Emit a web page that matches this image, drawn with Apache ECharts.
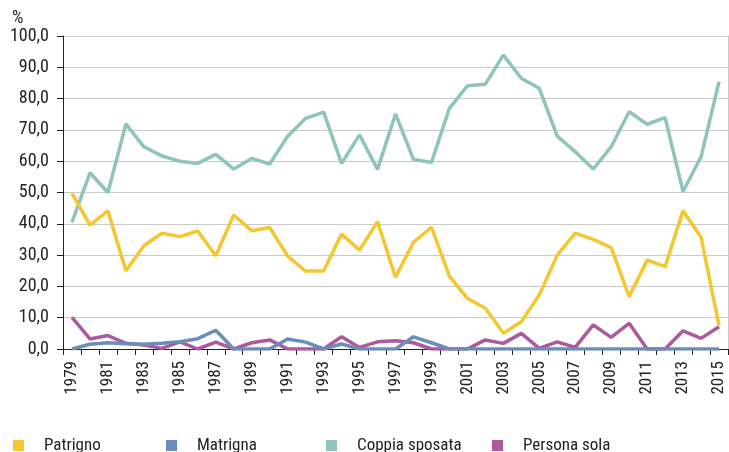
<!DOCTYPE html>
<html>
<head>
<meta charset="utf-8">
<script src="https://cdn.jsdelivr.net/npm/echarts@6/dist/echarts.min.js"></script>
<style>html,body{margin:0;padding:0;background:#fff}#c{width:729px;height:452px}</style>
</head>
<body>
<div id="c"></div>
<script>
const years = ['1979','1980','1981','1982','1983','1984','1985','1986','1987','1988','1989','1990','1991','1992','1993','1994','1995','1996','1997','1998','1999','2000','2001','2002','2003','2004','2005','2006','2007','2008','2009','2010','2011','2012','2013','2014','2015'];
const patrigno = [49.7,39.6,44.1,25.0,33.0,37.0,35.9,37.7,29.8,42.8,37.8,38.8,29.7,24.9,24.9,36.7,31.6,40.7,22.9,34.1,38.9,23.3,16.2,13.0,5.0,8.7,17.3,30.0,37.0,35.0,32.4,16.7,28.4,26.3,44.2,35.7,7.5];
const matrigna = [0.0,1.5,2.0,1.7,1.5,1.8,2.3,3.3,6.0,0.0,0.0,0.0,3.2,2.2,0.0,1.6,0.0,0.0,0.0,3.9,2.0,0.0,0.0,0.0,0.0,0.0,0.0,0.0,0.0,0.0,0.0,0.0,0.0,0.0,0.0,0.0,0.0];
const coppiaSposata = [40.5,56.3,50.0,71.9,64.6,61.7,60.0,59.3,62.2,57.5,60.9,59.1,68.0,73.7,75.7,59.3,68.4,57.4,75.1,60.6,59.6,76.9,84.1,84.6,93.9,86.5,83.3,68.0,63.0,57.5,64.6,75.8,71.8,73.9,50.3,61.4,85.4];
const personaSola = [10.1,3.2,4.3,1.8,1.3,0.2,2.3,0.0,2.2,0.0,2.0,2.9,0.0,0.0,0.0,3.9,0.5,2.3,2.6,2.0,0.0,0.0,0.0,2.9,1.8,5.0,0.2,2.3,0.5,7.7,3.7,8.2,0.0,0.0,5.8,3.4,7.1];
const yTicks = [0,10,20,30,40,50,60,70,80,90,100];

const FONT = '"Roboto Condensed","DejaVu Sans Condensed",sans-serif';
const TXT = '#222';
const colors = {
  'Patrigno': '#F5C62F',
  'Matrigna': '#6A8DB9',
  'Coppia sposata': '#8EC4B9',
  'Persona sola': '#AC5A9D'
};
function mkLegend(name, left) {
  return {
    data: [{name: name, icon: 'rect'}],
    left: left, top: 437, padding: 0,
    itemWidth: 11, itemHeight: 11, itemGap: 0, itemTextGap: 20,
    textStyle: {fontFamily: FONT, fontSize: 17, color: TXT, padding: [0, 0, 0, 15]},
    selectedMode: false
  };
}
function mkSeries(name, data) {
  return {
    name: name, type: 'line', data: data, symbol: 'none', smooth: false,
    lineStyle: {width: 3.5, color: colors[name]},
    itemStyle: {color: colors[name]},
    emphasis: {disabled: true}, animation: false
  };
}
const chart = echarts.init(document.getElementById('c'), null, {renderer: 'canvas'});
chart.setOption({
  animation: false,
  textStyle: {fontFamily: FONT},
  title: {text: '%', left: 12, top: 9, padding: 0, textStyle: {fontFamily: FONT, fontSize: 18, fontWeight: 'normal', color: TXT}},
  grid: {left: 63, right: 1, top: 36, bottom: 103, containLabel: false},
  legend: [mkLegend('Patrigno', 13), mkLegend('Matrigna', 166), mkLegend('Coppia sposata', 326), mkLegend('Persona sola', 492)],
  xAxis: {
    type: 'category', data: years, boundaryGap: true,
    axisLine: {lineStyle: {color: '#222', width: 1}},
    axisTick: {show: true, length: 6, interval: 0, lineStyle: {color: '#222'}},
    axisLabel: {rotate: 90, interval: 1, margin: 12, fontFamily: FONT, fontSize: 17, color: TXT},
    splitLine: {show: false}
  },
  yAxis: [{
    type: 'value', min: 0, max: 100, interval: 10,
    axisLine: {show: true, lineStyle: {color: '#222', width: 1}},
    axisTick: {show: true, length: 6, lineStyle: {color: '#222'}},
    axisLabel: {margin: 14, fontFamily: FONT, fontSize: 18, color: TXT,
      formatter: v => yTicks.indexOf(v) >= 0 ? v.toFixed(1).replace('.', ',') : ''},
    splitLine: {show: true, lineStyle: {color: '#c9c9c9', width: 1}}
  }, {
    type: 'value', min: 0, max: 100, interval: 10, position: 'right',
    axisLine: {show: true, lineStyle: {color: '#c9c9c9', width: 1}},
    axisTick: {show: false}, axisLabel: {show: false}, splitLine: {show: false}
  }],
  series: [
    mkSeries('Coppia sposata', coppiaSposata),
    mkSeries('Persona sola', personaSola),
    mkSeries('Patrigno', patrigno),
    mkSeries('Matrigna', matrigna)
  ]
});
</script>
</body>
</html>
